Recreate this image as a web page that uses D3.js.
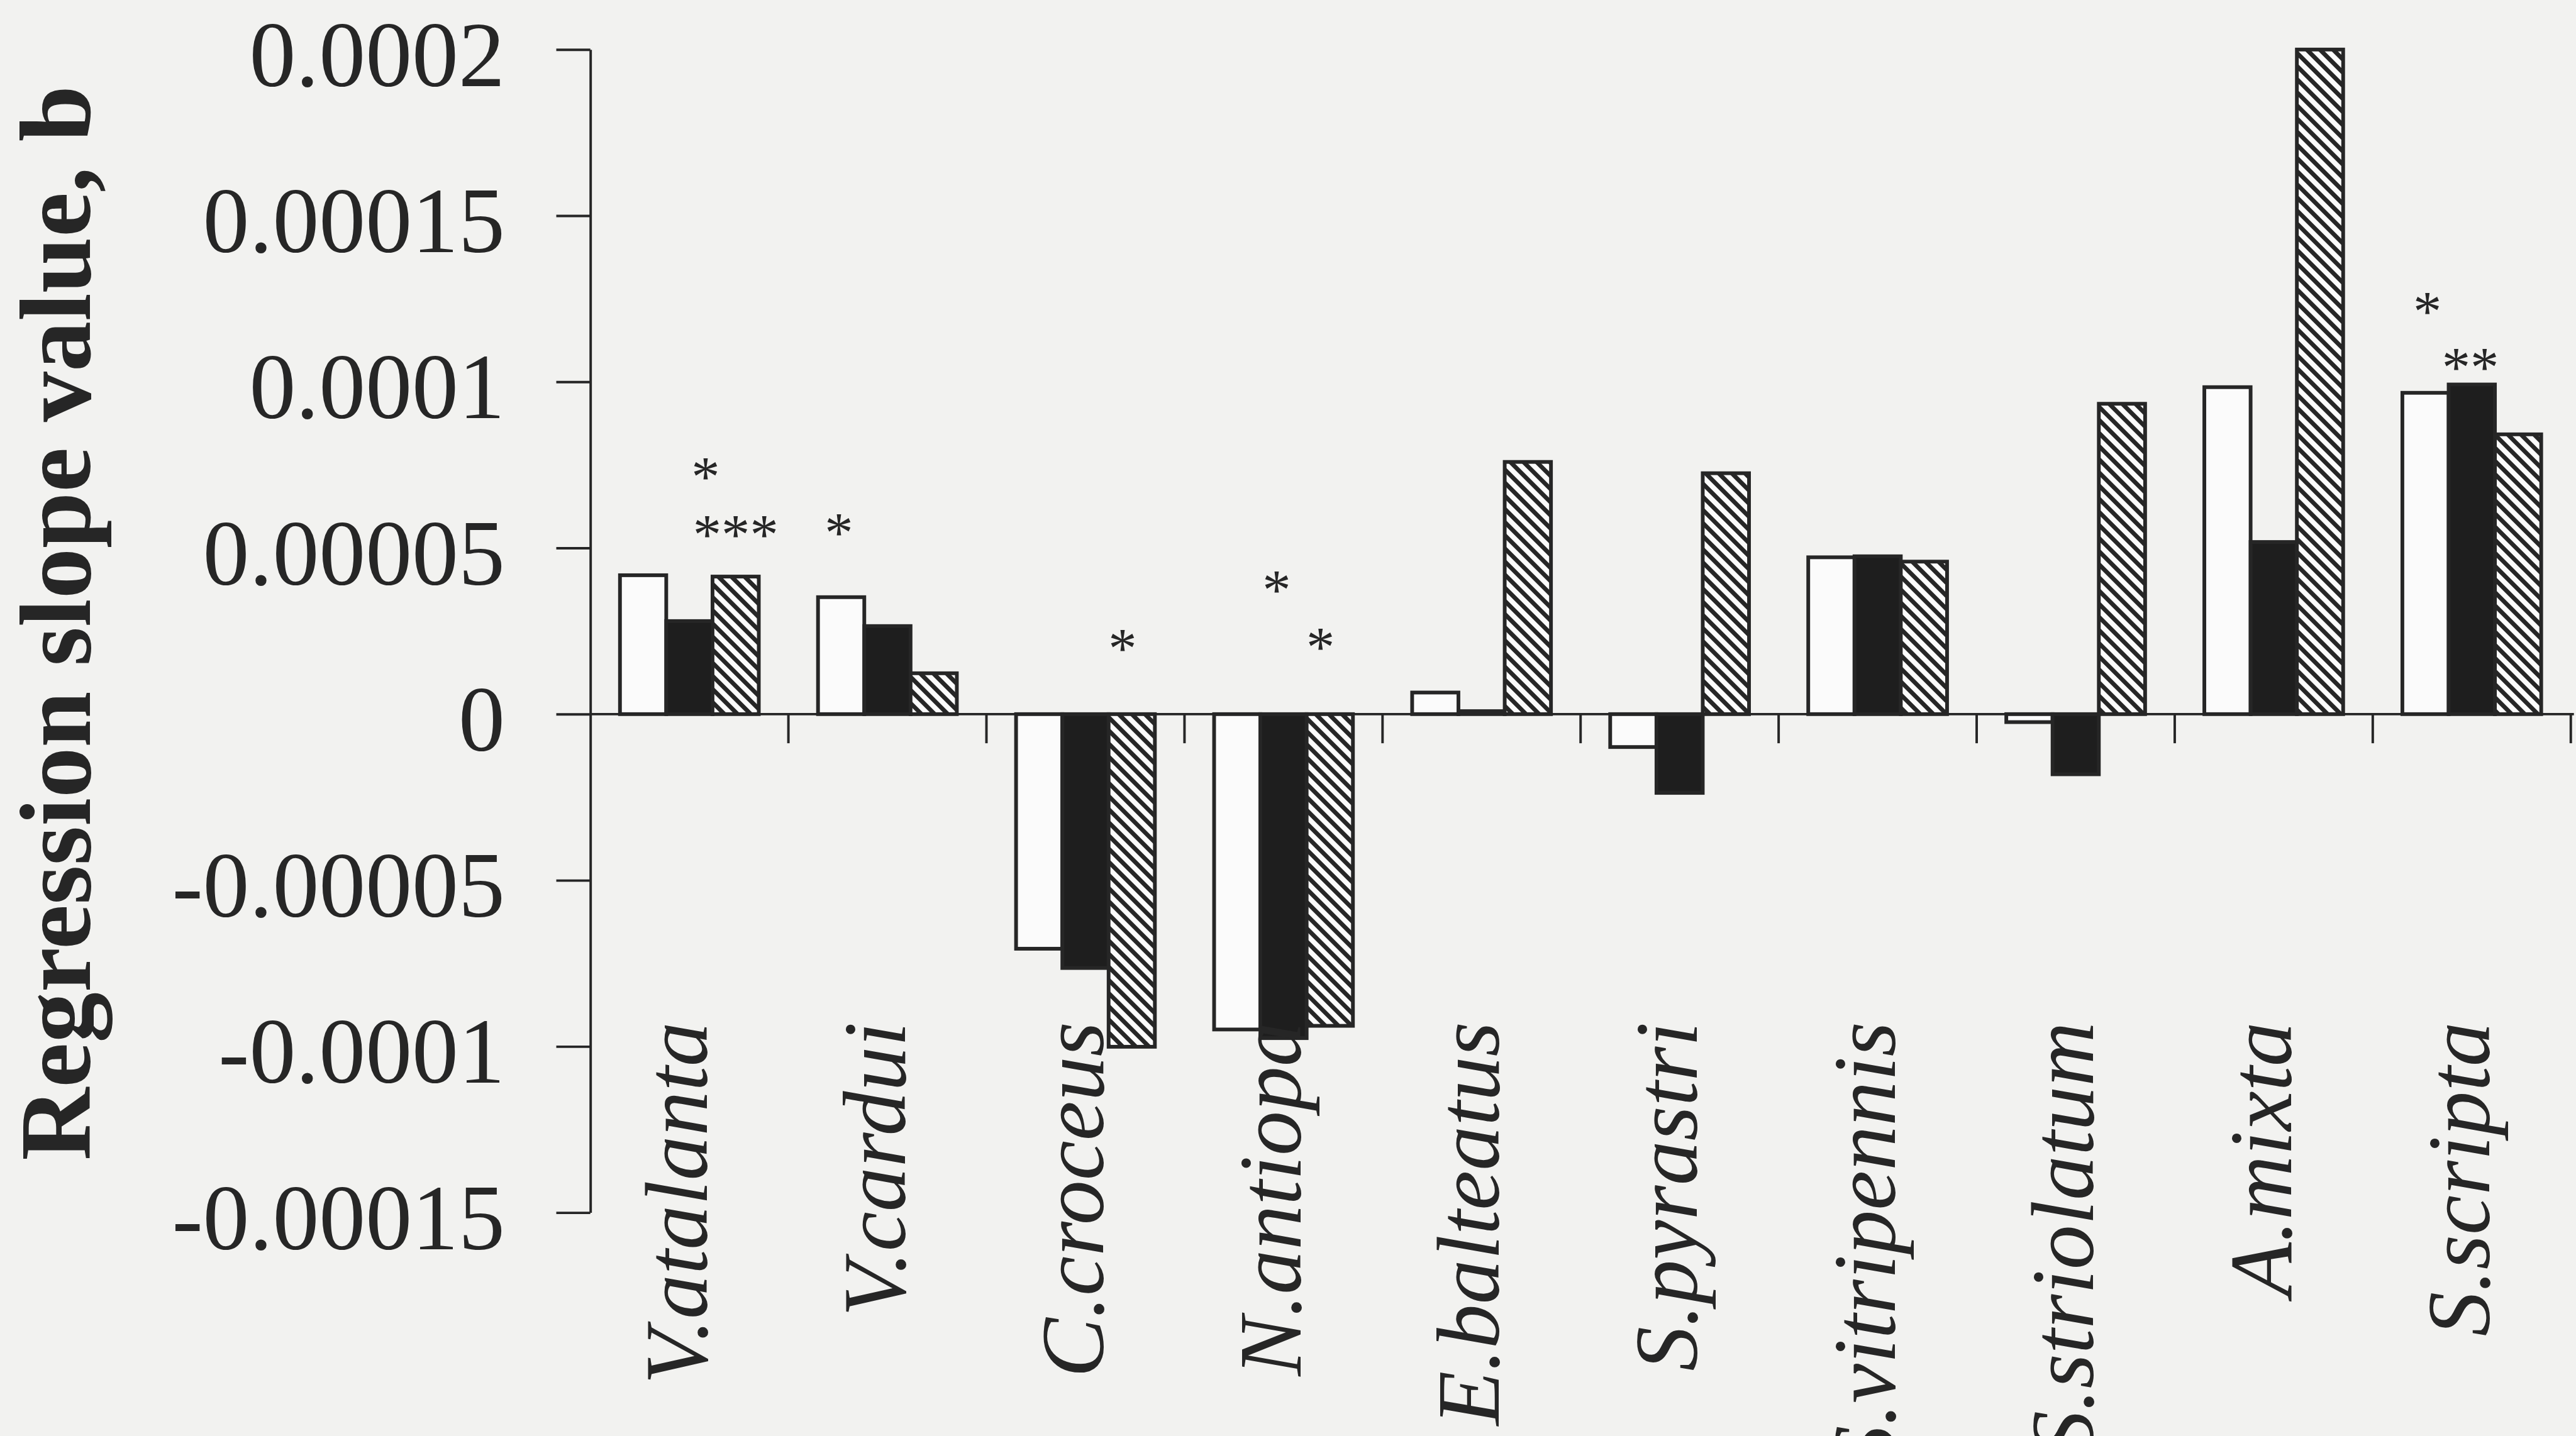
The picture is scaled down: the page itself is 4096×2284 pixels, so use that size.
<!DOCTYPE html>
<html>
<head>
<meta charset="utf-8">
<script src="https://cdn.jsdelivr.net/npm/d3@7"></script>
<style>
  html, body { margin: 0; padding: 0; background: #f2f2f0; overflow: hidden; }
  svg { display: block; }
</style>
</head>
<body>
<div id="chart"></div>
<script>
// species on the x axis
var categories = ["V.atalanta", "V.cardui", "C.croceus", "N.antiopa", "E.balteatus",
                  "S.pyrastri", "S.vitripennis", "S.striolatum", "A.mixta", "S.scripta"];

// three bar series per species (open, solid, hatched)
var openValues    = [4.18e-5, 3.52e-5, -7.06e-5, -9.49e-5, 0.65e-5, -0.99e-5, 4.72e-5, -0.24e-5, 9.84e-5, 9.67e-5];
var solidValues   = [2.80e-5, 2.65e-5, -7.64e-5, -9.75e-5, 0.09e-5, -2.37e-5, 4.75e-5, -1.81e-5, 5.18e-5, 9.92e-5];
var hatchedValues = [4.14e-5, 1.23e-5, -10.01e-5, -9.38e-5, 7.59e-5, 7.25e-5, 4.59e-5, 9.34e-5, 20.0e-5, 8.42e-5];

// y axis ticks
var yTicks = [0.0002, 0.00015, 0.0001, 0.00005, 0, -0.00005, -0.0001, -0.00015];
var yTickLabels = ["0.0002", "0.00015", "0.0001", "0.00005", "0", "-0.00005", "-0.0001", "-0.00015"];

// significance stars: species, bar slot (0..2), level, text
var starCategory = ["V.atalanta", "V.atalanta", "V.cardui", "C.croceus", "N.antiopa", "N.antiopa", "S.scripta", "S.scripta"];
var starSlot     = [1.35, 2.0, -0.05, 1.8, 0.85, 1.8, 0.04, 0.97];
var starLevel    = [7.38e-5, 5.65e-5, 5.7e-5, 2.22e-5, 3.97e-5, 2.26e-5, 12.36e-5, 10.68e-5];
var starText     = ["*", "***", "*", "*", "*", "*", "*", "**"];

var yTitle = "Regression slope value, b";

var ink = "#262626",
    font = "'Liberation Serif', 'Times New Roman', serif",
    k = 0.985;

var svg = d3.select("#chart")
      .append("svg")
      .attr("width", 4096)
      .attr("height", 2284);

var defs = svg.append("defs");
var hatch = defs.append("pattern")
      .attr("id", "hatch")
      .attr("patternUnits", "userSpaceOnUse")
      .attr("width", 15)
      .attr("height", 15)
      .attr("patternTransform", "rotate(45)");
hatch.append("rect").attr("width", 15).attr("height", 15).attr("fill", "#fbfbfb");
hatch.append("rect").attr("width", 15).attr("height", 7).attr("fill", ink);

/* everything drawn in reference pixels, then scaled down */
var vis = svg.append("g").attr("transform", "scale(" + k + ")");

var x = d3.scaleBand()
      .domain(categories)
      .range([953, 4150])
      .paddingInner(0)
      .paddingOuter(0);

var slot = d3.scaleBand()
      .domain([0, 1, 2])
      .range([0, x.bandwidth()])
      .paddingInner(0)
      .paddingOuter(0.64);

var y = d3.scaleLinear()
      .domain([-0.00015, 0.0002])
      .range([1958, 80]);

/* Y-axis */
var yaxis = vis.append("g")
      .attr("transform", "translate(953,0)")
      .call(d3.axisLeft(y)
            .tickValues(yTicks)
            .tickSize(55)
            .tickSizeOuter(0)
            .tickPadding(83)
            .tickFormat(function(d, i) { return yTickLabels[i]; }));

yaxis.select(".domain").attr("stroke", ink).attr("stroke-width", 4);
yaxis.selectAll(".tick line").attr("stroke", ink).attr("stroke-width", 4);
yaxis.selectAll(".tick text")
  .attr("fill", ink)
  .attr("dy", "0.39em")
  .style("font-family", font)
  .style("font-size", "150px");

/* Y-label */
vis.append("text")
  .attr("transform", "translate(145,1006) rotate(-90)")
  .attr("text-anchor", "middle")
  .attr("fill", ink)
  .style("font-family", font)
  .style("font-size", "163px")
  .style("font-weight", "bold")
  .text(yTitle);

/* bars */
var series = [
  {values: openValues,    fill: "#fbfbfb"},
  {values: solidValues,   fill: "#1e1e1e"},
  {values: hatchedValues, fill: "url(#hatch)"}
];

series.forEach(function(s, j) {
  vis.selectAll(".bar" + j)
    .data(categories)
    .enter().append("rect")
    .attr("class", "bar" + j)
    .attr("x", function(d) { return x(d) + slot(j); })
    .attr("y", function(d, i) { return y(Math.max(0, s.values[i])); })
    .attr("width", slot.bandwidth())
    .attr("height", function(d, i) { return Math.abs(y(s.values[i]) - y(0)); })
    .attr("fill", s.fill)
    .attr("stroke", ink)
    .attr("stroke-width", 6);
});

/* X-axis line and ticks between species */
vis.append("line")
  .attr("x1", 953)
  .attr("x2", 4155)
  .attr("y1", y(0))
  .attr("y2", y(0))
  .attr("stroke", ink)
  .attr("stroke-width", 4);

vis.selectAll(".xtick")
  .data(categories)
  .enter().append("line")
  .attr("class", "xtick")
  .attr("x1", function(d) { return x(d) + x.bandwidth(); })
  .attr("x2", function(d) { return x(d) + x.bandwidth(); })
  .attr("y1", y(0))
  .attr("y2", y(0) + 47)
  .attr("stroke", ink)
  .attr("stroke-width", 4);

/* species labels */
vis.selectAll(".xlabel")
  .data(categories)
  .enter().append("text")
  .attr("class", "xlabel")
  .attr("transform", function(d) {
    return "translate(" + (x(d) + x.bandwidth() / 2 + 28) + ",1650) rotate(-90)";
  })
  .attr("text-anchor", "end")
  .attr("fill", ink)
  .style("font-family", font)
  .style("font-size", "144px")
  .style("font-style", "italic")
  .text(function(d) { return d; });

/* significance stars */
vis.selectAll(".star")
  .data(starText)
  .enter().append("text")
  .attr("class", "star")
  .attr("x", function(d, i) {
    return x(starCategory[i]) + slot(0) + slot.step() * starSlot[i] + slot.bandwidth() / 2;
  })
  .attr("y", function(d, i) { return y(starLevel[i]) + 44; })
  .attr("text-anchor", "middle")
  .attr("fill", ink)
  .style("font-family", font)
  .style("font-size", "92px")
  .text(function(d) { return d; });
</script>
</body>
</html>
